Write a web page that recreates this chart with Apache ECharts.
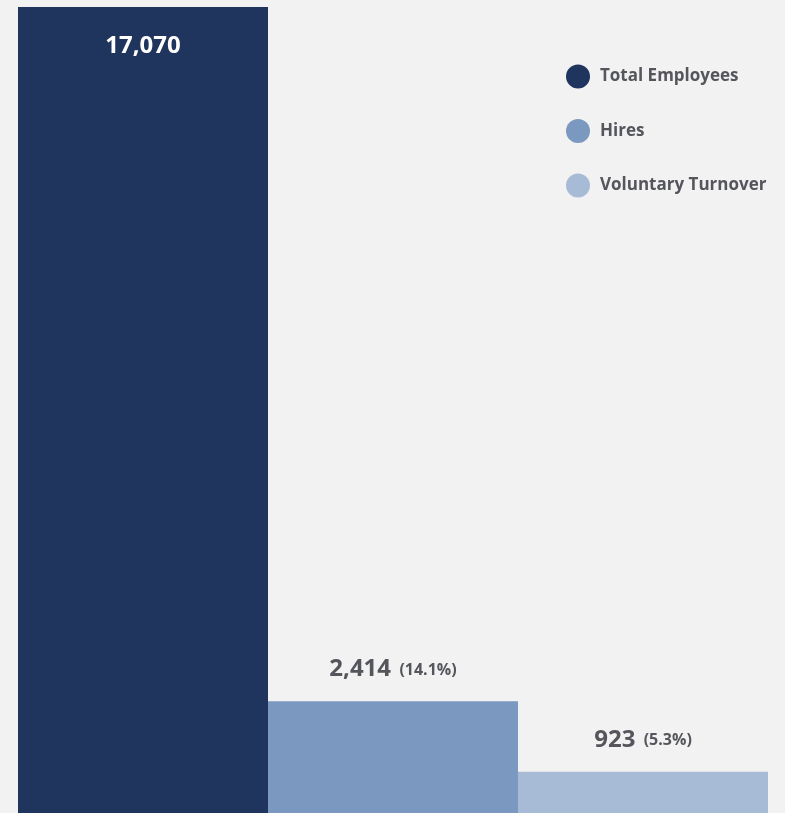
<!DOCTYPE html>
<html>
<head>
<meta charset="utf-8">
<script src="https://cdn.jsdelivr.net/npm/echarts@6/dist/echarts.min.js"></script>
<style>
html,body{margin:0;padding:0;background:#f2f2f2;overflow:hidden;}
#chart{width:785px;height:816px;}
</style>
</head>
<body>
<div id="chart"></div>
<script>
const categories = ['Total Employees', 'Hires', 'Voluntary Turnover'];
const values = [17070, 2414, 923];
const pctLabels = ['', '14.1%', '5.3%'];
const colors = ['#1f355e', '#7b98c1', '#a7bbd7'];

const fmt = v => v.toLocaleString('en-US');
const FONT = 'Open Sans';

const series = categories.map((name, i) => {
  const data = categories.map((c, j) => (j === i ? values[i] : '-'));
  const isFirst = i === 0;
  return {
    name: name,
    type: 'bar',
    stack: 'all',
    barWidth: '100%',
    data: data,
    itemStyle: { color: colors[i] },
    emphasis: { disabled: true },
    label: {
      show: true,
      position: isFirst ? 'insideTop' : 'top',
      distance: isFirst ? 26 : 19,
      formatter: p => isFirst ? '{w|' + fmt(p.value) + '}' : '{a|' + fmt(p.value) + '} {b|(' + pctLabels[i] + ')}',
      rich: {
        w: { color: '#ffffff', fontSize: 24, fontWeight: 'bold', fontFamily: FONT, lineHeight: 26 },
        a: { color: '#55565b', fontSize: 24, fontWeight: 'bold', fontFamily: FONT, lineHeight: 26 },
        b: { color: '#55565b', fontSize: 16, fontWeight: 'bold', fontFamily: FONT, lineHeight: 26, padding: [2, 0, 0, 5] }
      }
    }
  };
});

const chart = echarts.init(document.getElementById('chart'), null, { renderer: 'canvas' });
chart.setOption({
  backgroundColor: '#f2f2f2',
  animation: false,
  grid: { left: 18, right: 17, top: 7, bottom: 0.5 },
  legend: {
    orient: 'vertical',
    left: 566,
    top: 64.5,
    padding: 0,
    itemWidth: 24,
    itemHeight: 24,
    itemGap: 30.5,
    icon: 'circle',
    selectedMode: false,
    data: categories,
    textStyle: { color: '#55565b', fontSize: 17, fontWeight: 'bold', fontFamily: FONT, padding: [0, 0, 0, 5] }
  },
  xAxis: {
    type: 'category',
    data: categories,
    show: false
  },
  yAxis: {
    type: 'value',
    min: 0,
    max: 17070,
    show: false,
    splitLine: { show: false }
  },
  series: series
});
</script>
</body>
</html>
